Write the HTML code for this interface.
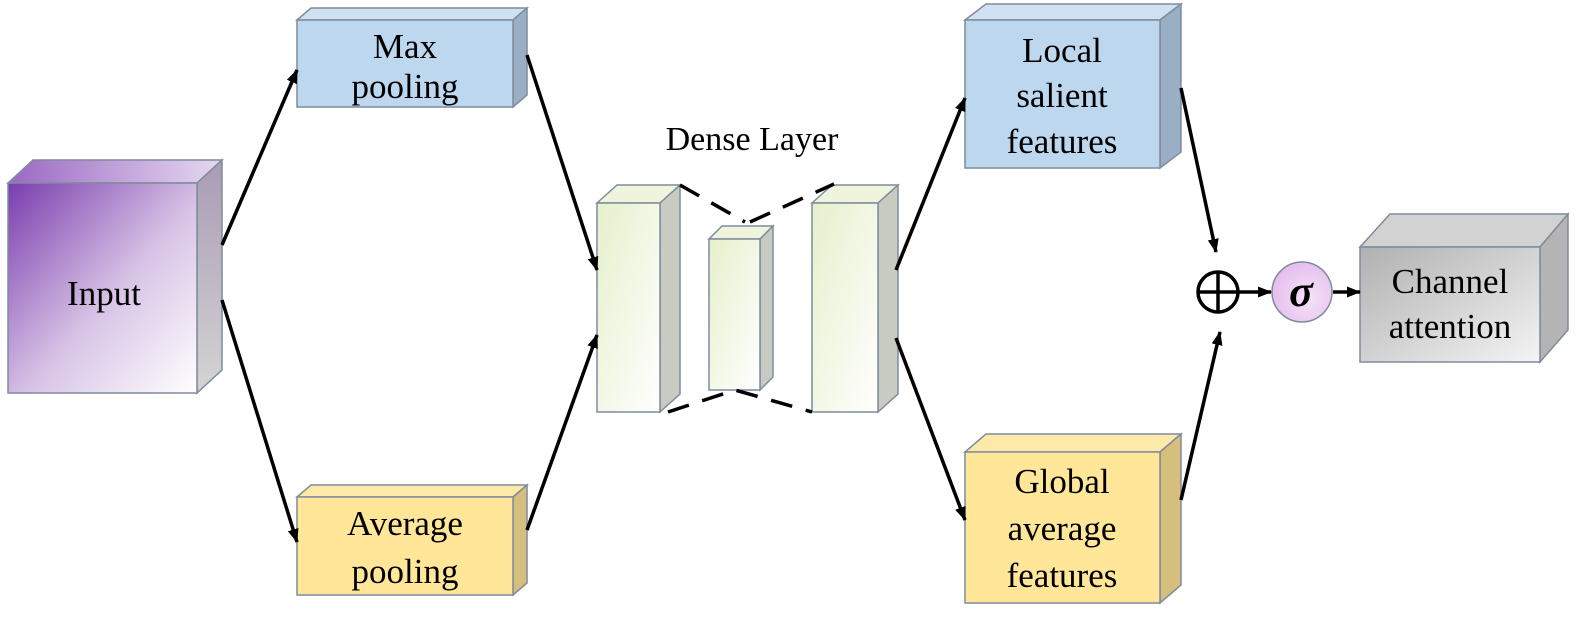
<!DOCTYPE html>
<html><head><meta charset="utf-8"><style>body{margin:0;background:#fff}svg{display:block}</style></head><body>
<svg width="1595" height="621" viewBox="0 0 1595 621" xmlns="http://www.w3.org/2000/svg" font-family="Liberation Serif, serif">
<defs>
<linearGradient id="gp" x1="0" y1="0" x2="1" y2="1"><stop offset="0" stop-color="#7a3dae"/><stop offset="0.55" stop-color="#d8c4e6"/><stop offset="1" stop-color="#ffffff"/></linearGradient>
<linearGradient id="gps" x1="0" y1="0" x2="0" y2="1"><stop offset="0" stop-color="#a99bb5"/><stop offset="1" stop-color="#d4d4d4"/></linearGradient>
<linearGradient id="gpt" x1="0" y1="0" x2="1" y2="0"><stop offset="0" stop-color="#9a68c4"/><stop offset="1" stop-color="#e6d8f0"/></linearGradient>
<linearGradient id="gg" x1="0" y1="0" x2="1" y2="1"><stop offset="0" stop-color="#e6f0cc"/><stop offset="1" stop-color="#ffffff"/></linearGradient>
<linearGradient id="gc" x1="0" y1="0" x2="1" y2="1"><stop offset="0" stop-color="#b0b0b0"/><stop offset="1" stop-color="#f4f4f4"/></linearGradient>
<radialGradient id="gs" cx="0.6" cy="0.6" r="0.7"><stop offset="0" stop-color="#f6e4f8"/><stop offset="1" stop-color="#e2b8ec"/></radialGradient>
<marker id="ah" markerWidth="14" markerHeight="11" refX="13" refY="5.5" orient="auto" markerUnits="userSpaceOnUse"><path d="M0,0 L14,5.5 L0,11 z" fill="#000"/></marker>
</defs>
<g stroke="#7f8c9c" stroke-width="1.5">
<polygon points="8,183 33,160 222,160 197,183" fill="url(#gpt)"/>
<polygon points="197,183 222,160 222,370 197,393" fill="url(#gps)"/>
<rect x="8" y="183" width="189" height="210" fill="url(#gp)"/>
<polygon points="297,20 311,8 527,8 513,20" fill="#cfe1f3"/>
<polygon points="513,20 527,8 527,95 513,107" fill="#9aafc6"/>
<rect x="297" y="20" width="216" height="87" fill="#bdd7ee"/>
<polygon points="297,497 311,485 527,485 513,497" fill="#fdeaa8"/>
<polygon points="513,497 527,485 527,583 513,595" fill="#d6bf7c"/>
<rect x="297" y="497" width="216" height="98" fill="#ffe699"/>
<polygon points="597,203 617,185 680,185 660,203" fill="#eef5dc"/>
<polygon points="660,203 680,185 680,394 660,412" fill="#c8cbc2"/>
<rect x="597" y="203" width="63" height="209" fill="url(#gg)"/>
<polygon points="709,239 722,226 773,226 760,239" fill="#eef5dc"/>
<polygon points="760,239 773,226 773,377 760,390" fill="#c8cbc2"/>
<rect x="709" y="239" width="51" height="151" fill="url(#gg)"/>
<polygon points="812,203 832,185 898,185 878,203" fill="#eef5dc"/>
<polygon points="878,203 898,185 898,394 878,412" fill="#c8cbc2"/>
<rect x="812" y="203" width="66" height="209" fill="url(#gg)"/>
<polygon points="965,20 986,4 1181,4 1160,20" fill="#cfe1f3"/>
<polygon points="1160,20 1181,4 1181,152 1160,168" fill="#9aafc6"/>
<rect x="965" y="20" width="195" height="148" fill="#bdd7ee"/>
<polygon points="965,452 986,434 1181,434 1160,452" fill="#fdeaa8"/>
<polygon points="1160,452 1181,434 1181,585 1160,603" fill="#d6bf7c"/>
<rect x="965" y="452" width="195" height="151" fill="#ffe699"/>
<polygon points="1360,247 1390,214 1568,214 1540,247" fill="#d2d2d2"/>
<polygon points="1540,247 1568,214 1568,330 1540,362" fill="#b4b4b4"/>
<rect x="1360" y="247" width="180" height="115" fill="url(#gc)"/>
<circle cx="1302" cy="292" r="30" fill="url(#gs)"/>
</g>
<g stroke="#000" stroke-width="3.5" stroke-dasharray="22,14" fill="none">
<line x1="680" y1="185" x2="745" y2="222"/>
<line x1="750" y1="222" x2="834" y2="184"/>
<polyline points="668,412 735,390 812,412"/>
</g>
<g stroke="#000" stroke-width="3.5" fill="none" marker-end="url(#ah)">
<line x1="222" y1="245" x2="297" y2="70"/>
<line x1="222" y1="300" x2="297" y2="542"/>
<line x1="527" y1="55" x2="597" y2="270"/>
<line x1="527" y1="530" x2="597" y2="335"/>
<line x1="896" y1="270" x2="965" y2="98"/>
<line x1="896" y1="338" x2="965" y2="520"/>
<line x1="1181" y1="88" x2="1216" y2="252"/>
<line x1="1181" y1="500" x2="1220" y2="332"/>
<line x1="1238" y1="292" x2="1271" y2="292"/>
<line x1="1333" y1="292" x2="1360" y2="292"/>
</g>
<g stroke="#000" stroke-width="3.5" fill="none">
<circle cx="1218" cy="292" r="20"/>
<line x1="1198" y1="292" x2="1238" y2="292"/>
<line x1="1218" y1="272" x2="1218" y2="312"/>
</g>
<g font-size="35" fill="#000" text-anchor="middle">
<text x="104" y="305">Input</text>
<text x="405" y="58">Max</text>
<text x="405" y="98">pooling</text>
<text x="405" y="535">Average</text>
<text x="405" y="583">pooling</text>
<text x="752" y="150" font-size="34">Dense Layer</text>
<text x="1062" y="62">Local</text>
<text x="1062" y="107">salient</text>
<text x="1062" y="153">features</text>
<text x="1062" y="493">Global</text>
<text x="1062" y="540">average</text>
<text x="1062" y="587">features</text>
<text x="1450" y="293">Channel</text>
<text x="1450" y="338">attention</text>
<text x="1301" y="306" font-style="italic" font-weight="bold" font-size="44">σ</text>
</g>
</svg>
</body></html>
